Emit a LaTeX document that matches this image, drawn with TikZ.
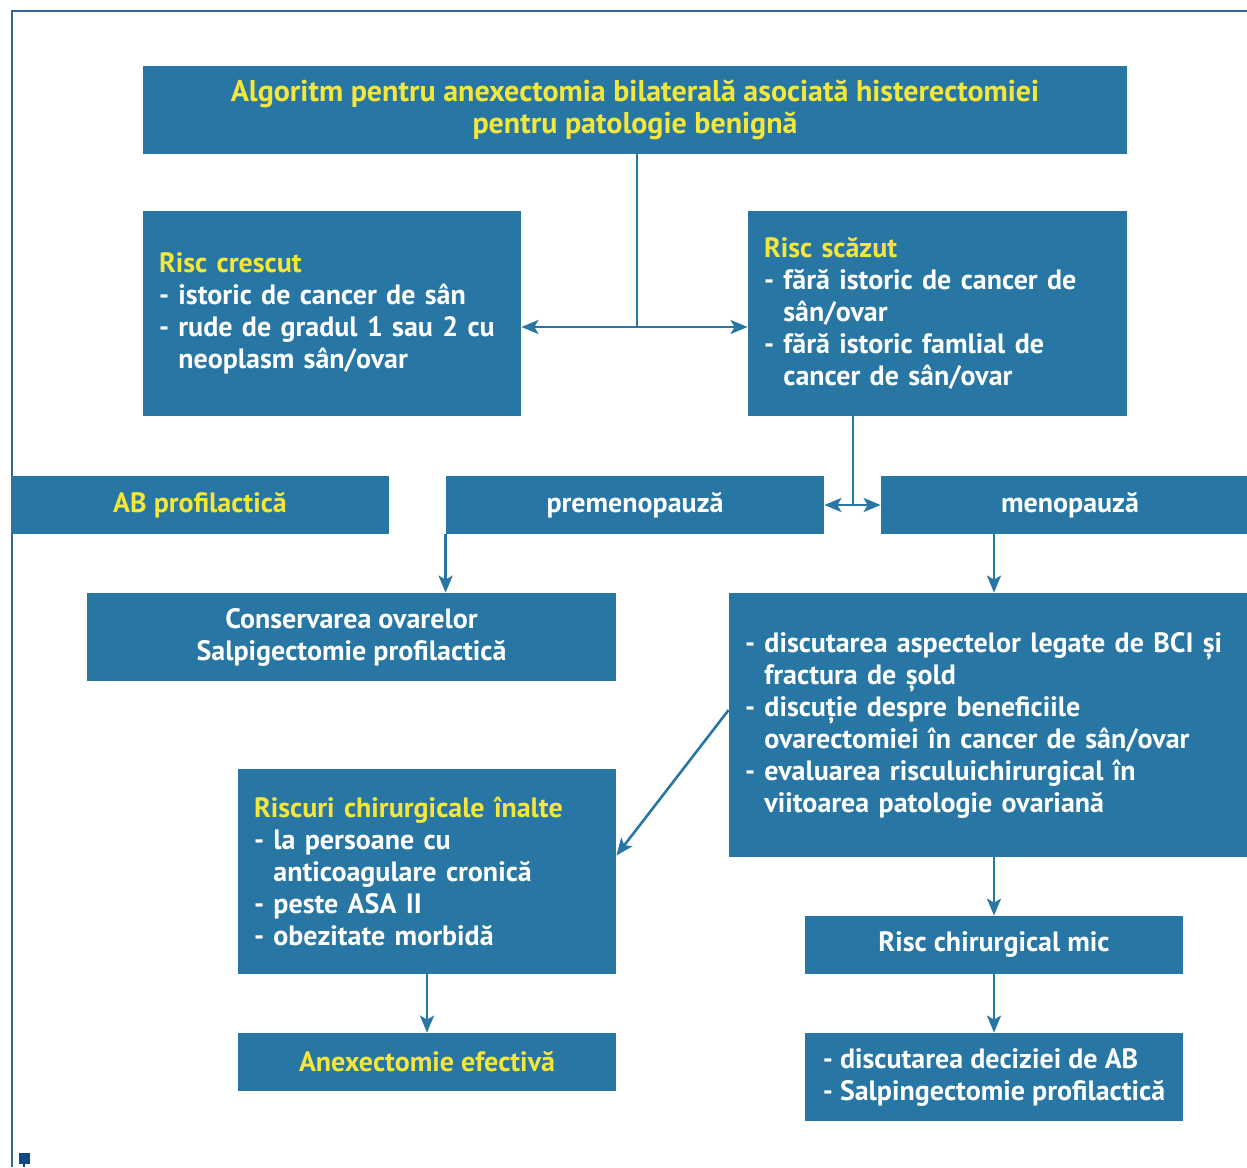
\documentclass[tikz,border=0pt]{standalone}
\usepackage{fontspec}
\setmainfont{PT Sans}
\usetikzlibrary{arrows.meta, positioning}

\definecolor{abblue}{HTML}{2876A4}
\definecolor{abyellow}{HTML}{F5E63A}
\definecolor{frameblue}{HTML}{2E6798}
\definecolor{markblue}{HTML}{0B4A85}

\newcommand{\ind}{\hphantom{- }}

\begin{document}
\begin{tikzpicture}[
        x=0.5pt, y=-0.5pt,
        box/.style={rectangle, fill=abblue, text=white, inner xsep=8pt, inner ysep=0pt,
                    font=\fontsize{14}{16}\selectfont\bfseries},
        listbox/.style={box, align=left, text width=#1},
        centerbox/.style={box, align=center, minimum width=#1},
        arrow/.style={-{Stealth[length=8.5pt, width=7pt, inset=2pt]}, line width=1.3pt, draw=abblue},
        link/.style={line width=1.3pt, draw=abblue},
    ]
    \useasboundingbox (0,0) rectangle (1247,1167);

    % ====== cadru ======
    \draw[frameblue, line width=1pt] (12,1167) -- (12,11) -- (1247,11);
    \fill[markblue] (19,1153) rectangle (30,1164);
    \draw[markblue, line width=1pt] (24,1164) -- (24,1167);

    % ====== titlu ======
    \node[centerbox=492pt, minimum height=44pt, text=abyellow,
          font=\fontsize{15}{16}\selectfont\bfseries] (title) at (635,110)
        {Algoritm pentru anexectomia bilaterală asociată histerectomiei\\pentru patologie benignă};

    % ====== nivel de risc ======
    \node[listbox=173pt, minimum height=102.5pt] (crescut) at (332,313.5)
        {\textcolor{abyellow}{Risc crescut}\\
         - istoric de cancer de sân\\
         - rude de gradul 1 sau 2 cu\\
         \ind neoplasm sân/ovar};
    \node[listbox=173.5pt, minimum height=102.5pt] (scazut) at (937.5,313.5)
        {\textcolor{abyellow}{Risc scăzut}\\
         - fără istoric de cancer de\\
         \ind sân/ovar\\
         - fără istoric famlial de\\
         \ind cancer de sân/ovar};

    % ====== status ======
    \node[centerbox=189pt, minimum height=29pt, text=abyellow] (abprof) at (200,505) {AB profilactică};
    \node[centerbox=189pt, minimum height=29pt] (premen) at (635,505) {premenopauză};
    \node[centerbox=189pt, minimum height=29pt] (menop) at (1070,505) {menopauză};

    % ====== conduita ======
    \node[centerbox=264.5pt, minimum height=44pt] (conserv) at (351.5,637)
        {Conservarea ovarelor\\Salpigectomie profilactică};
    \node[listbox=249pt, minimum height=132pt] (discut) at (994,725)
        {- discutarea aspectelor legate de BCI și\\
         \ind fractura de șold\\
         - discuție despre beneficiile\\
         \ind ovarectomiei în cancer de sân/ovar\\
         - evaluarea risculuichirurgical în\\
         \ind viitoarea patologie ovariană};
    \node[listbox=173pt, minimum height=102.5pt] (inalte) at (427,871.5)
        {\textcolor{abyellow}{Riscuri chirurgicale înalte}\\
         - la persoane cu\\
         \ind anticoagulare cronică\\
         - peste ASA II\\
         - obezitate morbidă};
    \node[centerbox=189pt, minimum height=29pt] (mic) at (994,945) {Risc chirurgical mic};
    \node[centerbox=189pt, minimum height=29pt, text=abyellow] (anex) at (427,1062) {Anexectomie efectivă};
    \node[centerbox=189pt, align=left, minimum height=44pt] (decizie) at (994,1077)
        {- discutarea deciziei de AB\\
         - Salpingectomie profilactică};

    % ====== sageti ======
    \coordinate (s1) at (637,327);
    \draw[link] (title.south -| s1) -- (s1);
    \draw[arrow] (s1) -- (crescut.east |- s1);
    \draw[arrow] (s1) -- (scazut.west |- s1);

    \coordinate (s2) at (853,505);
    \draw[link] (scazut.south -| s2) -- (s2);
    \draw[arrow] (s2) -- (premen.east);
    \draw[arrow] (s2) -- (menop.west);

    \draw[arrow] (premen.south west) -- (conserv.north -| premen.south west);
    \draw[arrow] (discut.north |- menop.south) -- (discut.north);
    \draw[arrow] ([yshift=7.5pt]discut.west) -- ([yshift=8pt]inalte.east);
    \draw[arrow] (discut.south) -- (mic.north);
    \draw[arrow] (mic.south) -- (decizie.north);
    \draw[arrow] (inalte.south) -- (anex.north);
\end{tikzpicture}
\end{document}
